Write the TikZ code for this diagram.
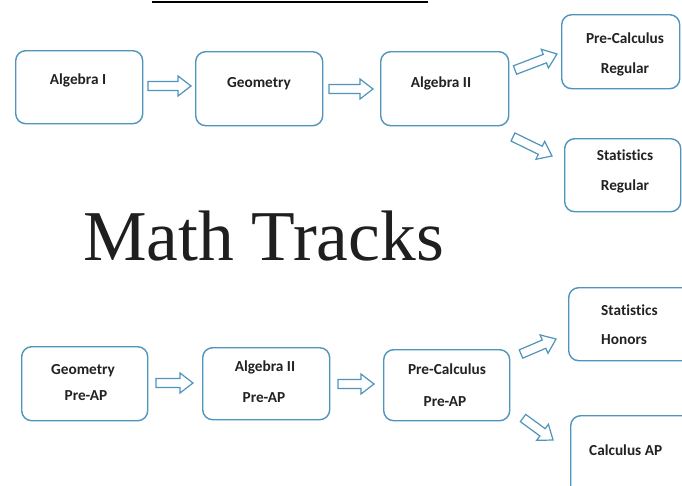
\documentclass[tikz,border=0pt]{standalone}
\usepackage{fontspec}
\setmainfont{Liberation Serif}
\newfontfamily\boxfont[Ligatures=NoCommon]{Carlito}
\usetikzlibrary{calc}
\definecolor{boxblue}{HTML}{4F94BC}
\definecolor{lbltext}{HTML}{222222}
\newcommand\blockarrow[2]{%
  \path ($(#2)!13pt!(#1)$) coordinate (tmpc);
  \draw[arrline] ($(#1)!4.5pt!90:(#2)$) -- ($(tmpc)!4.5pt!-90:(#1)$) -- ($(tmpc)!10pt!-90:(#1)$) -- (#2)
     -- ($(tmpc)!10pt!90:(#1)$) -- ($(tmpc)!4.5pt!90:(#1)$) -- ($(#1)!4.5pt!-90:(#2)$) -- cycle;}
\begin{document}
\begin{tikzpicture}[x=1pt,y=-1pt,
  box/.style={draw=boxblue, line width=1.4pt, rounded corners=10pt, anchor=north west, inner sep=0pt},
  lbl/.style={font=\boxfont\bfseries\fontsize{15.3}{17}\selectfont, text=lbltext, inner sep=0pt, text height=10pt, text depth=0pt},
  arrline/.style={draw=boxblue, line width=1.2pt, line join=miter}]
\useasboundingbox (0,0) rectangle (682,485);
\clip (0,0) rectangle (682,485);
\fill[white] (0,0) rectangle (682,485);
% top rule
\draw[line width=2pt] (152,2) -- (428,2);
% title
\node[font=\fontsize{71.5}{80}\selectfont, text=black!88, anchor=base, inner sep=0pt] (title) at (263.5,260) {Math Tracks};
% top row
\node[box, minimum width=127pt, minimum height=73pt] (alg1) at (15,50) {};
\node[lbl] (alg1t) at (78,79) {Algebra I};
\node[box, minimum width=127pt, minimum height=74pt] (geo) at (195,51) {};
\node[lbl] (geot) at (259,82) {Geometry};
\node[box, minimum width=128pt, minimum height=74pt] (alg2) at (380,51) {};
\node[lbl] (alg2t) at (441,82) {Algebra II};
\node[box, minimum width=118pt, minimum height=74pt] (pcr) at (561,14) {};
\node[lbl] (pcrt1) at (625,38) {Pre-Calculus};
\node[lbl] (pcrt2) at (625,68) {Regular};
\node[box, minimum width=116pt, minimum height=73pt] (str) at (564,138) {};
\node[lbl] (strt1) at (625,155) {Statistics};
\node[lbl] (strt2) at (625,185) {Regular};
% bottom row
\node[box, minimum width=126pt, minimum height=74pt] (geop) at (21,346) {};
\node[lbl] (geopt1) at (83,369) {Geometry};
\node[lbl] (geopt2) at (86,395) {Pre-AP};
\node[box, minimum width=127pt, minimum height=72pt] (alg2p) at (202,347) {};
\node[lbl] (alg2pt1) at (265,366) {Algebra II};
\node[lbl] (alg2pt2) at (264,397) {Pre-AP};
\node[box, minimum width=126pt, minimum height=71pt] (pcp) at (383,349) {};
\node[lbl] (pcpt1) at (447,369) {Pre-Calculus};
\node[lbl] (pcpt2) at (445,401) {Pre-AP};
\node[box, minimum width=130pt, minimum height=73pt] (sth) at (568,287) {};
\node[lbl, anchor=west] (stht1) at (601,310) {Statistics};
\node[lbl, anchor=west] (stht2) at (601,339) {Honors};
\node[box, minimum width=130pt, minimum height=85pt] (cap) at (570,415) {};
\node[lbl, anchor=west] (capt) at (589,450) {Calculus AP};
% arrow end points
\coordinate (t1s) at (148,86);  \coordinate (t1e) at (191,86);
\coordinate (t2s) at (329,89);  \coordinate (t2e) at (373,89);
\coordinate (t3s) at (515,70);  \coordinate (t3e) at (557,54);
\coordinate (t4s) at (513,137); \coordinate (t4e) at (552,156);
\coordinate (b1s) at (156,383); \coordinate (b1e) at (193,383);
\coordinate (b2s) at (338,384); \coordinate (b2e) at (374,384);
\coordinate (b3s) at (521,354); \coordinate (b3e) at (556,339);
\coordinate (b4s) at (523,418); \coordinate (b4e) at (553,440);
\blockarrow{t1s}{t1e}
\blockarrow{t2s}{t2e}
\blockarrow{t3s}{t3e}
\blockarrow{t4s}{t4e}
\blockarrow{b1s}{b1e}
\blockarrow{b2s}{b2e}
\blockarrow{b3s}{b3e}
\blockarrow{b4s}{b4e}
\end{tikzpicture}
\end{document}
